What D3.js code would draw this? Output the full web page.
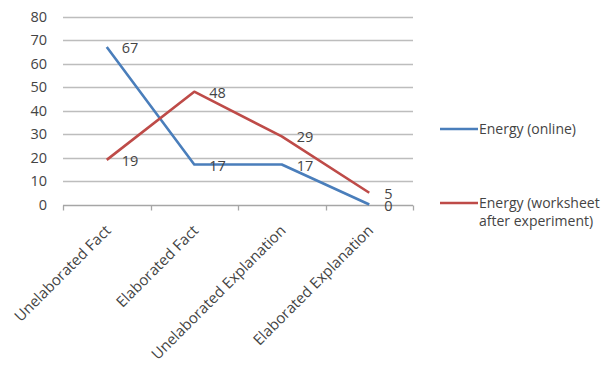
<!DOCTYPE html>
<html>
<head>
<meta charset="utf-8">
<script src="https://cdn.jsdelivr.net/npm/d3@7"></script>
<style>
  html, body { margin: 0; padding: 0; background: #fff; }
  svg { display: block; }
  text { font-family: "Open Sans", Lato, sans-serif; fill: #444; }
</style>
</head>
<body>
<svg id="chart" width="610" height="365"></svg>
<script>
// Chart data
const categories = ["Unelaborated Fact", "Elaborated Fact", "Unelaborated Explanation", "Elaborated Explanation"];
const onlineValues = [67, 17, 17, 0];
const worksheetValues = [19, 48, 29, 5];
const seriesNames = ["Energy (online)", ["Energy (worksheet", "after experiment)"]];
const yTicks = [0, 10, 20, 30, 40, 50, 60, 70, 80];

const colors = ["#4a7ebb", "#be4b48"];
const svg = d3.select("#chart");

const plot = { left: 63, right: 413, top: 16.5, bottom: 204.5 };

const x = d3.scaleBand().domain(categories).range([plot.left, plot.right]);
const y = d3.scaleLinear().domain([0, 80]).range([plot.bottom, plot.top]);

// Horizontal gridlines
svg.append("g")
  .selectAll("line")
  .data(yTicks.filter(d => d > 0))
  .join("line")
  .attr("x1", plot.left).attr("x2", plot.right)
  .attr("y1", d => Math.round(y(d)) + 0.5).attr("y2", d => Math.round(y(d)) + 0.5)
  .attr("stroke", "#bdbdbd").attr("stroke-width", 1.3);

// Y axis labels
svg.append("g")
  .selectAll("text")
  .data(yTicks)
  .join("text")
  .attr("x", 47).attr("y", d => y(d))
  .attr("dy", "0.36em")
  .attr("text-anchor", "end")
  .style("font-size", "14.5px")
  .text(d => d);

// X axis line and tick marks
const xAxisY = Math.round(y(0)) + 0.5;
svg.append("line")
  .attr("x1", plot.left).attr("x2", plot.right)
  .attr("y1", xAxisY).attr("y2", xAxisY)
  .attr("stroke", "#a6a6a6").attr("stroke-width", 1.3);
const tickXs = categories.map(c => x(c)).concat([plot.right]);
svg.append("g")
  .selectAll("line")
  .data(tickXs)
  .join("line")
  .attr("x1", d => Math.round(d) + 0.5).attr("x2", d => Math.round(d) + 0.5)
  .attr("y1", xAxisY).attr("y2", xAxisY + 5)
  .attr("stroke", "#a6a6a6").attr("stroke-width", 1.3);

// Rotated category labels
svg.append("g")
  .selectAll("text")
  .data(categories)
  .join("text")
  .attr("text-anchor", "end")
  .style("font-size", "15px")
  .attr("transform", d => {
    const cx = x(d) + x.bandwidth() / 2 + 5;
    return `translate(${cx},${plot.bottom + 27}) rotate(-45)`;
  })
  .text(d => d);

// Lines
const line = d3.line()
  .x((d, i) => x(categories[i]) + x.bandwidth() / 2)
  .y(d => y(d));

[onlineValues, worksheetValues].forEach((vals, si) => {
  svg.append("path")
    .datum(vals)
    .attr("fill", "none")
    .attr("stroke", colors[si])
    .attr("stroke-width", 2.6)
    .attr("stroke-linejoin", "round")
    .attr("d", line);
});

// Data labels
[onlineValues, worksheetValues].forEach(vals => {
  svg.append("g")
    .selectAll("text")
    .data(vals)
    .join("text")
    .attr("x", (d, i) => x(categories[i]) + x.bandwidth() / 2 + 15)
    .attr("y", d => y(d) + 6)
    .style("font-size", "14.5px")
    .text(d => d);
});

// Legend
const legend = svg.append("g");
const legendYs = [129, 203];
legendYs.forEach((ly, i) => {
  legend.append("line")
    .attr("x1", 440).attr("x2", 478)
    .attr("y1", ly).attr("y2", ly)
    .attr("stroke", colors[i]).attr("stroke-width", 2.6);
  const names = Array.isArray(seriesNames[i]) ? seriesNames[i] : [seriesNames[i]];
  names.forEach((n, j) => {
    legend.append("text")
      .attr("x", 479).attr("y", ly + j * 18)
      .attr("dy", "0.36em")
      .style("font-size", "14px")
      .text(n);
  });
});
</script>
</body>
</html>
